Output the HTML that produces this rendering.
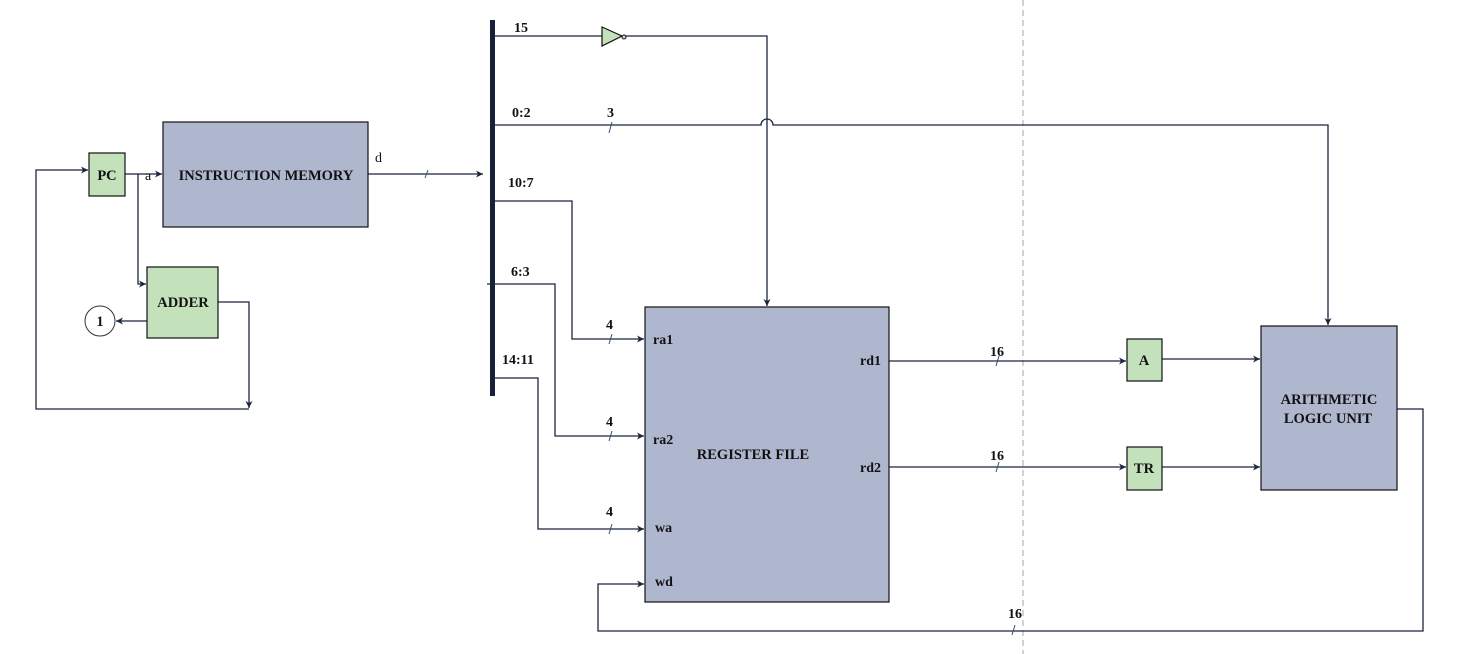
<!DOCTYPE html>
<html><head><meta charset="utf-8"><style>
html,body{margin:0;padding:0;background:#fff;width:1461px;height:654px;overflow:hidden}
svg text{font-family:"Liberation Serif",serif;font-weight:bold;fill:#111}
</style></head><body>
<svg width="1461" height="654" viewBox="0 0 1461 654" xmlns="http://www.w3.org/2000/svg">
<defs>
<marker id="ar" markerWidth="8" markerHeight="8" refX="7" refY="4" orient="auto" markerUnits="userSpaceOnUse">
<path d="M0,0.5 L7,4 L0,7.5 L2,4 Z" fill="#1b2540"/></marker>
</defs>
<g stroke="#1b2540" stroke-width="1.3" fill="none">
<line x1="1023" y1="0" x2="1023" y2="654" stroke="#bbb" stroke-dasharray="6,4"/>
<polyline points="218,302 249,302 249,408" marker-end="url(#ar)"/>
<polyline points="249,409 36,409 36,170 88,170" marker-end="url(#ar)"/>
<line x1="125" y1="174" x2="162" y2="174" marker-end="url(#ar)"/>
<polyline points="138,174 138,284 146,284" marker-end="url(#ar)"/>
<line x1="147" y1="321" x2="116" y2="321" marker-end="url(#ar)"/>
<line x1="368" y1="174" x2="483" y2="174" marker-end="url(#ar)"/>
<polyline points="495,36 602,36"/>
<polyline points="626,36 767,36 767,306" marker-end="url(#ar)"/>
<path d="M495,125 L761,125 A6,6 0 0 1 773,125 L1328,125 L1328,325" marker-end="url(#ar)"/>
<polyline points="495,201 572,201 572,339 644,339" marker-end="url(#ar)"/>
<polyline points="487,284 555,284 555,436 644,436" marker-end="url(#ar)"/>
<polyline points="495,378 538,378 538,529 644,529" marker-end="url(#ar)"/>
<line x1="889" y1="361" x2="1126" y2="361" marker-end="url(#ar)"/>
<line x1="889" y1="467" x2="1126" y2="467" marker-end="url(#ar)"/>
<line x1="1162" y1="359" x2="1260" y2="359" marker-end="url(#ar)"/>
<line x1="1162" y1="467" x2="1260" y2="467" marker-end="url(#ar)"/>
<polyline points="1397,409 1423,409 1423,631 598,631 598,584 644,584" marker-end="url(#ar)"/>
</g>
<g stroke="#3a4a7a" stroke-width="1">
<line x1="425" y1="178" x2="428" y2="170"/>
<line x1="609" y1="133" x2="612" y2="122"/>
<line x1="609" y1="344" x2="612" y2="334"/>
<line x1="609" y1="441" x2="612" y2="431"/>
<line x1="609" y1="534" x2="612" y2="524"/>
<line x1="996" y1="366" x2="999" y2="356"/>
<line x1="996" y1="472" x2="999" y2="462"/>
<line x1="1012" y1="635" x2="1015" y2="625"/>
</g>
<rect x="490" y="20" width="5" height="376" fill="#17203a"/>
<g stroke="#111" stroke-width="1.2">
<rect x="89" y="153" width="36" height="43" fill="#c3e1bb"/>
<rect x="163" y="122" width="205" height="105" fill="#afb7cf"/>
<rect x="147" y="267" width="71" height="71" fill="#c3e1bb"/>
<circle cx="100" cy="321" r="15" fill="#fff" stroke="#333" stroke-width="1"/>
<polygon points="602,27 602,46 622,36" fill="#c3e1bb"/>
<circle cx="624" cy="37" r="2" fill="#c3e1bb" stroke-width="1"/>
<rect x="645" y="307" width="244" height="295" fill="#afb7cf"/>
<rect x="1127" y="339" width="35" height="42" fill="#c3e1bb"/>
<rect x="1127" y="447" width="35" height="43" fill="#c3e1bb"/>
<rect x="1261" y="326" width="136" height="164" fill="#afb7cf"/>
</g>
<g font-size="14.5">
<text x="107" y="180" text-anchor="middle">PC</text>
<text x="266" y="180" text-anchor="middle">INSTRUCTION MEMORY</text>
<text x="183" y="307" text-anchor="middle">ADDER</text>
<text x="100" y="326" text-anchor="middle">1</text>
<text x="753" y="459" text-anchor="middle">REGISTER FILE</text>
<text x="1144" y="365" text-anchor="middle">A</text>
<text x="1144" y="473" text-anchor="middle">TR</text>
<text x="1329" y="404" text-anchor="middle">ARITHMETIC</text>
<text x="1328" y="423" text-anchor="middle">LOGIC UNIT</text>
</g>
<g font-size="14">
<text x="145" y="180" style="font-weight:normal">a</text>
<text x="375" y="162" style="font-weight:normal">d</text>
<text x="514" y="32">15</text>
<text x="512" y="117">0:2</text>
<text x="607" y="117">3</text>
<text x="508" y="187">10:7</text>
<text x="511" y="276">6:3</text>
<text x="502" y="364">14:11</text>
<text x="606" y="329">4</text>
<text x="606" y="426">4</text>
<text x="606" y="516">4</text>
<text x="653" y="344">ra1</text>
<text x="653" y="444">ra2</text>
<text x="655" y="532">wa</text>
<text x="655" y="586">wd</text>
<text x="860" y="365">rd1</text>
<text x="860" y="472">rd2</text>
<text x="990" y="356">16</text>
<text x="990" y="460">16</text>
<text x="1008" y="618">16</text>
</g>
</svg>
</body></html>
